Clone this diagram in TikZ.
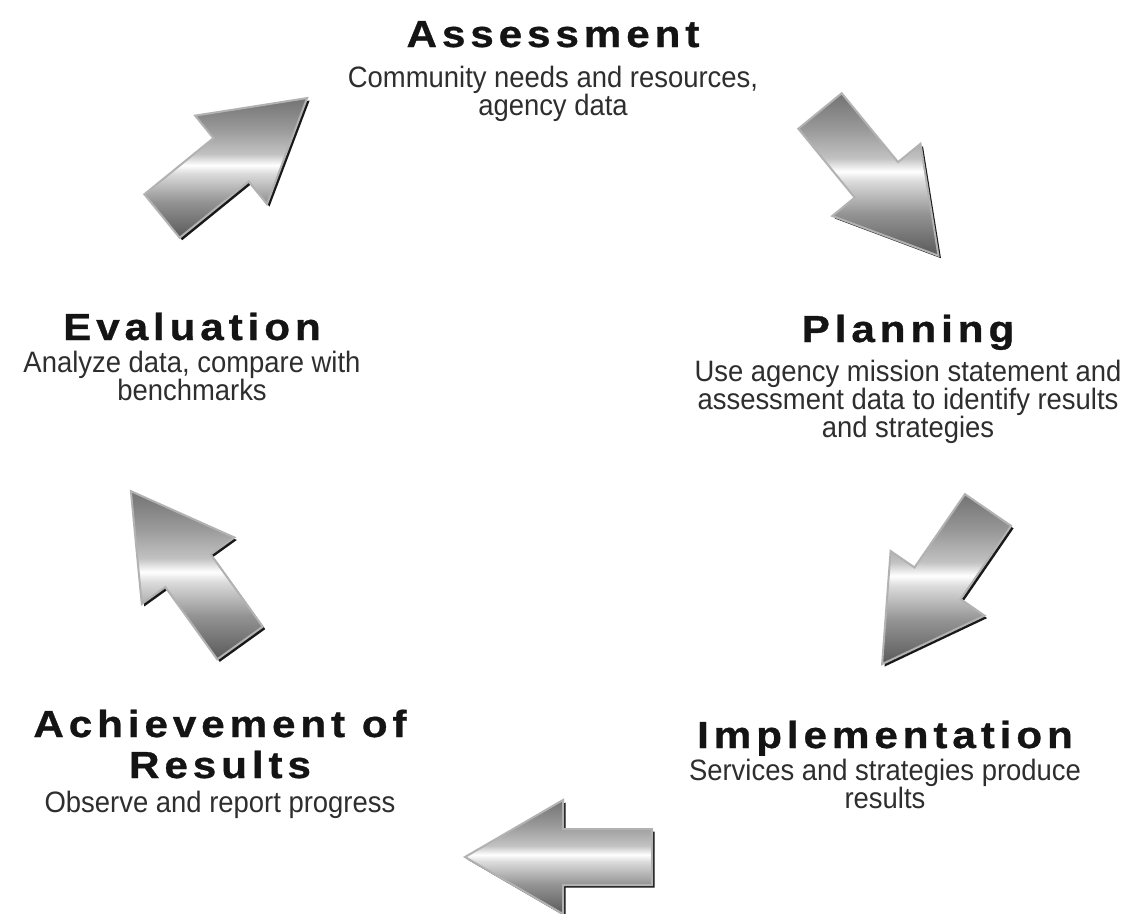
\documentclass[tikz,border=0pt]{standalone}
\usepackage{fontspec}
\setmainfont{Liberation Sans}[FakeStretch=0.93]
\newfontfamily\titlefont{Liberation Sans}[FakeStretch=1.12, LetterSpace=13, BoldFeatures={FakeBold=0.8}]
\usepackage{tikz}
\usetikzlibrary{positioning}
\pgfdeclareverticalshading{steel}{100bp}{color(0bp)=(black!65); color(25bp)=(black!65); color(38bp)=(black!42); color(48bp)=(black!14); color(51bp)=(white); color(55bp)=(black!24); color(64bp)=(black!40); color(75bp)=(black!55); color(100bp)=(black!55)}
\tikzset{phase/.style={font=\titlefont\bfseries\fontsize{37.7}{41}\selectfont, text=black!92, inner sep=0pt, align=center, anchor=base},
  detail/.style={font=\fontsize{29.5}{28}\selectfont, text=black!82, inner sep=0pt, align=center},
  steelshadow/.style={fill=black!90},
  steelfill/.style={shading=steel},
  steelrim/.style={draw=black!30, line width=2pt, line join=miter}}
\newcommand{\arrowoutline}{(0,-28) -- (89,-28) -- (89,-57) -- (187,0) -- (89,57) -- (89,28) -- (0,28) -- cycle}
\newcommand{\steelarrow}[3]{%
  \fill[steelshadow, shift={(#1+2.5,#2+2.5)}, rotate=#3] \arrowoutline;
  \shade[steelfill, shift={(#1,#2)}, rotate=#3] \arrowoutline;
  \draw[steelrim, shift={(#1,#2)}, rotate=#3] \arrowoutline;
}

\begin{document}
\begin{tikzpicture}[x=1pt, y=-1pt]
\useasboundingbox (0,0) rectangle (1123,913);
\fill[white] (0,0) rectangle (1123,913);
% phases
\node[phase] (assess) at (553,47) {Assessment};
\node[detail, below=19pt of assess.base] (assesstxt) {Community needs and resources,\\agency data};
\node[phase] (plan) at (908,342) {Planning};
\node[detail, below=18pt of plan.base] (plantxt) {Use agency mission statement and\\assessment data to identify results\\and strategies};
\node[phase] (implement) at (885,748) {Implementation};
\node[detail, below=11pt of implement.base] (implementtxt) {Services and strategies produce\\results};
\node[phase] (achieve) at (220,778) {Achievement of\\Results};
\node[detail, below=13pt of achieve.base] (achievetxt) {Observe and report progress};
\node[phase] (evaluate) at (192,340) {Evaluation};
\node[detail, below=11pt of evaluate.base] (evaluatetxt) {Analyze data, compare with\\benchmarks};
% arrows
\steelarrow{820}{111}{-50.7}
\steelarrow{988}{510}{-124.5}
\steelarrow{652}{857}{180}
\steelarrow{240}{643}{125.7}
\steelarrow{162}{216}{39.1}
\end{tikzpicture}
\end{document}
